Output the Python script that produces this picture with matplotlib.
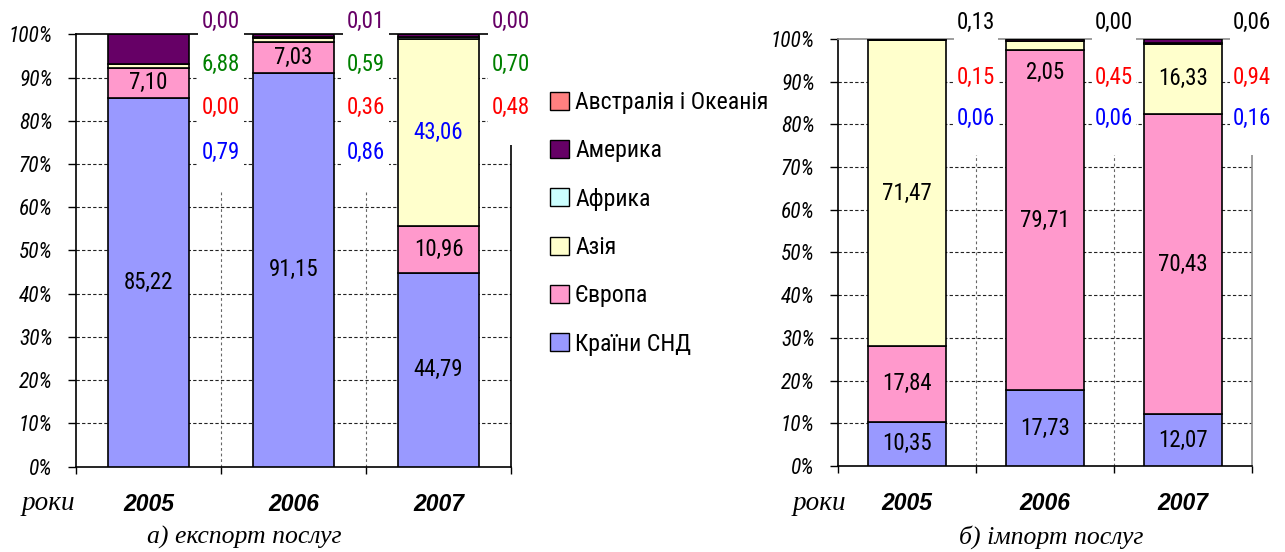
import numpy as np
import matplotlib
matplotlib.use("Agg")
import matplotlib.pyplot as plt
from matplotlib import font_manager as fm
from matplotlib.patches import Patch, Rectangle
from matplotlib.ticker import FixedLocator

# ---- data -----------------------------------------------------------------
years = ["2005", "2006", "2007"]
regions = ["Країни СНД", "Європа", "Азія", "Африка", "Америка",
           "Австралія і Океанія"]
region_colors = ["#9999FF", "#FF99CC", "#FFFFCC", "#CCFFFF", "#660066",
                 "#FF8080"]

export_cis = [85.22, 91.15, 44.79]
export_europe = [7.10, 7.03, 10.96]
export_asia = [0.79, 0.86, 43.06]
export_africa = [0.00, 0.36, 0.48]
export_america = [6.88, 0.59, 0.70]
export_oceania = [0.00, 0.01, 0.00]

import_cis = [10.35, 17.73, 12.07]
import_europe = [17.84, 79.71, 70.43]
import_asia = [71.47, 2.05, 16.33]
import_africa = [0.06, 0.06, 0.16]
import_america = [0.15, 0.45, 0.94]
import_oceania = [0.13, 0.00, 0.06]

ytick_values = list(range(0, 101, 10))


# ---- fonts ----------------------------------------------------------------
def pick_family(candidates, fallback="DejaVu Sans"):
    names = {f.name for f in fm.fontManager.ttflist}
    for c in candidates:
        if c in names:
            return c
    return fallback


NARROW = pick_family(["Liberation Sans Narrow", "Roboto Condensed",
                      "Liberation Sans"])
SANS = pick_family(["Liberation Sans", "Arial"])
SERIF = pick_family(["Liberation Serif", "DejaVu Serif"], "DejaVu Serif")
NSCALE = 1.0 if ("Narrow" in NARROW or "Condensed" in NARROW) else 0.84

LABEL_FS = 16.5 * NSCALE
TICK_FS = 15.5 * NSCALE
LEGEND_FS = 17.2 * NSCALE

W, H = 1285, 552
fig = plt.figure(figsize=(W / 100, H / 100), dpi=100)
fig.patch.set_facecolor("white")


def px_axes(x0, x1, y_top, y_bottom):
    return fig.add_axes([x0 / W, 1 - y_bottom / H, (x1 - x0) / W,
                         (y_bottom - y_top) / H])


def draw_panel(ax, series, slots, label_colors, frame_color, bar_width):
    x = np.arange(len(years))
    bottom = np.zeros(len(years))
    used = {i: [] for i in range(len(years))}
    for k, vals in enumerate(series):
        vals = np.asarray(vals, dtype=float)
        ax.bar(x, vals, bar_width, bottom=bottom, color=region_colors[k],
               edgecolor="black", linewidth=1.2, zorder=3)
        for i, v in enumerate(vals):
            txt = f"{v:.2f}".replace(".", ",")
            if k in slots and v <= 10:
                xp, yp = i + 0.5, slots[k]
                used[i].append(yp)
            else:
                xp = i
                yp = bottom[i] - 5.3 if v < 4 else bottom[i] + v / 2
            ax.text(xp, yp, txt, ha="center", va="center",
                    color=label_colors[k], fontsize=LABEL_FS,
                    family=NARROW, zorder=6, clip_on=False)
        bottom += vals

    # white backing behind the outside label columns
    for i, ys in used.items():
        if ys:
            y0 = min(ys) - 8.5
            ax.add_patch(Rectangle((i + 0.5 - 0.16, y0), 0.32, 108 - y0,
                                   facecolor="white", edgecolor="none",
                                   zorder=4, clip_on=False))

    ax.set_xlim(-0.5, len(years) - 0.5)
    ax.set_ylim(0, 100)

    # dashed grid
    ax.hlines(ytick_values[1:-1], -0.5, len(years) - 0.5, colors="#222222",
              linewidth=0.8, linestyles=(0, (3, 2)), zorder=1)
    ax.vlines(np.arange(len(years) - 1) + 0.5, 0, 100, colors="#666666",
              linewidth=0.8, linestyles=(0, (2.5, 2.5)), zorder=1)

    ax.set_yticks(ytick_values)
    ax.set_yticklabels([f"{v}%" for v in ytick_values], fontsize=TICK_FS,
                       family=NARROW, style="italic")
    ax.tick_params(axis="y", direction="out", length=5.8, width=1.0,
                   pad=11)
    ax.xaxis.set_major_locator(FixedLocator(np.arange(len(years) + 1) - 0.5))
    ax.xaxis.set_minor_locator(FixedLocator(np.arange(len(years))))
    ax.set_xticklabels([], minor=False)
    ax.set_xticklabels(years, minor=True, fontsize=16.5, family=SANS,
                       fontweight="bold", style="italic")
    ax.tick_params(axis="x", which="major", direction="out", length=5,
                   width=1.0)
    ax.tick_params(axis="x", which="minor", length=0, pad=19)

    for side in ("left", "bottom"):
        ax.spines[side].set_color("black")
        ax.spines[side].set_linewidth(1.2)
    for side in ("top", "right"):
        ax.spines[side].set_color(frame_color)
        ax.spines[side].set_linewidth(1.2)
    ax.set_facecolor("white")


# ---- left panel: export -----------------------------------------------------
ax1 = px_axes(76, 511, 34.3, 466.7)
draw_panel(ax1,
           [export_cis, export_europe, export_asia, export_africa,
            export_america, export_oceania],
           slots={2: 72.6, 3: 83.0, 4: 93.0, 5: 103.0},
           label_colors=["black", "black", "#0000FF", "#FF0000", "#008000",
                         "#660066"],
           frame_color="black", bar_width=0.565)

# ---- right panel: import ----------------------------------------------------
ax2 = px_axes(838, 1252, 39, 466)
draw_panel(ax2,
           [import_cis, import_europe, import_asia, import_africa,
            import_america, import_oceania],
           slots={3: 81.3, 4: 91.0, 5: 103.8},
           label_colors=["black", "black", "black", "#0000FF", "#FF0000",
                         "black"],
           frame_color="#8C8C8C", bar_width=0.558)

# ---- legend -------------------------------------------------------------
handles = [Patch(facecolor=region_colors[k], edgecolor="black", linewidth=1.0)
           for k in reversed(range(len(regions)))]
fig.legend(handles, list(reversed(regions)), loc="upper left",
           bbox_to_anchor=(550 / W, 1 - 91 / H), frameon=False,
           prop={"family": NARROW, "size": LEGEND_FS},
           handlelength=0.8, handleheight=0.8, handletextpad=0.25,
           labelspacing=1.06, borderpad=0, borderaxespad=0)

# ---- axis captions --------------------------------------------------------
for xpos in (48, 819):
    fig.text(xpos / W, 1 - 503 / H, "роки", ha="center", va="center",
             family=SERIF, style="italic", fontsize=19.5)
fig.text(244 / W, 1 - 537 / H, "а) експорт послуг", ha="center",
         va="center", family=SERIF, style="italic", fontsize=18.5)
fig.text(1051 / W, 1 - 537 / H, "б) імпорт послуг", ha="center",
         va="center", family=SERIF, style="italic", fontsize=18.5)

fig.savefig("out.png", dpi=100, facecolor="white")
